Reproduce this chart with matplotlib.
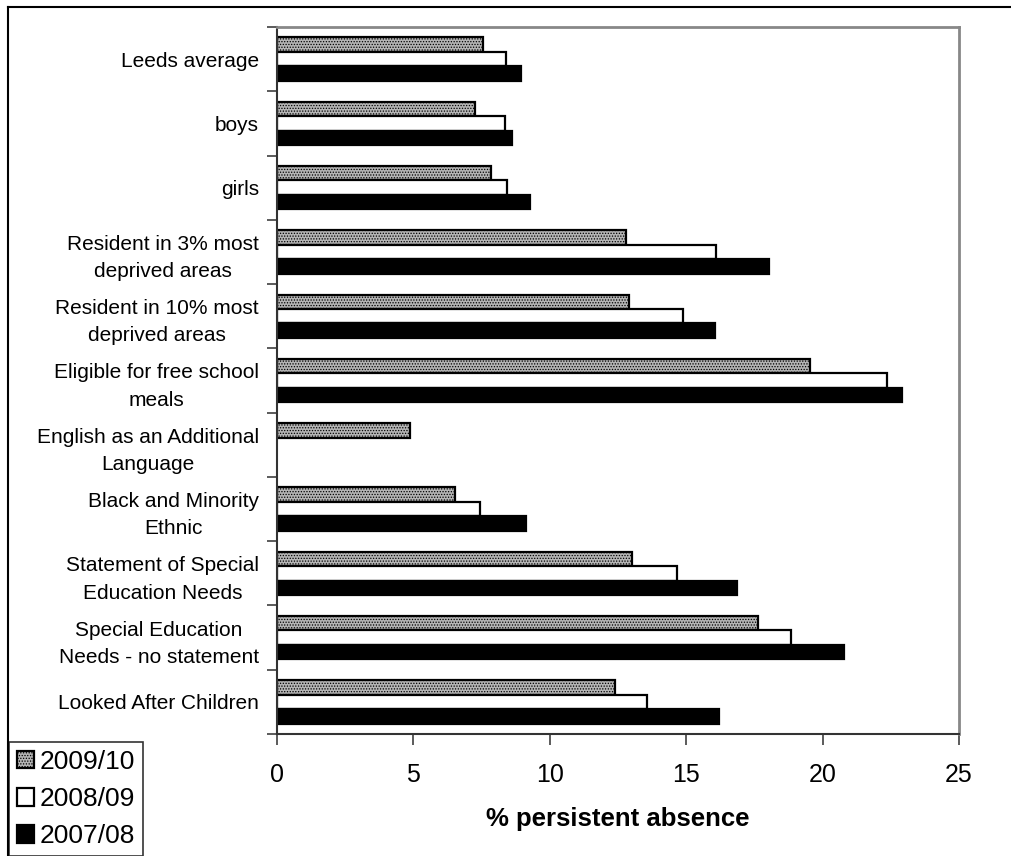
import matplotlib.pyplot as plt
from matplotlib.lines import Line2D
import numpy as np

plt.rcParams['font.family'] = ['Liberation Sans', 'DejaVu Sans']
plt.rcParams['hatch.color'] = '#4a4a4a'
plt.rcParams['hatch.linewidth'] = 0.6

categories = ['Leeds average', 'boys', 'girls',
              'Resident in 3% most\ndeprived areas',
              'Resident in 10% most\ndeprived areas',
              'Eligible for free school\nmeals',
              'English as an Additional\nLanguage',
              'Black and Minority\nEthnic',
              'Statement of Special\nEducation Needs',
              'Special Education\nNeeds - no statement',
              'Looked After Children']
v_0910 = [7.54, 7.26, 7.83, 12.80, 12.92, 19.52, 4.88, 6.53, 13.00, 17.65, 12.39]
v_0809 = [8.39, 8.35, 8.43, 16.09, 14.88, 22.35, np.nan, 7.45, 14.65, 18.83, 13.56]
v_0708 = [8.95, 8.63, 9.28, 18.04, 16.04, 22.92, np.nan, 9.14, 16.88, 20.78, 16.22]
series = ['2009/10', '2008/09', '2007/08']
x_ticks = [0, 5, 10, 15, 20, 25]

BAR_H = 0.225
fig = plt.figure(figsize=(10.12, 8.56), dpi=100)
ax = fig.add_axes([277 / 1012, 1 - 734 / 856, (959 - 277) / 1012, (734 - 27) / 856])

y = np.arange(len(categories))
b1 = ax.barh(y - BAR_H, v_0910, height=BAR_H, color='#b4b4b4', hatch='......',
             edgecolor='black', linewidth=1.6, label=series[0])
b2 = ax.barh(y, v_0809, height=BAR_H, color='white',
             edgecolor='black', linewidth=1.6, label=series[1])
b3 = ax.barh(y + BAR_H, v_0708, height=BAR_H, color='black',
             edgecolor='black', linewidth=1.6, label=series[2])

ax.set_xlim(0, 25)
ax.set_ylim(len(categories) - 0.5, -0.5)
ax.set_xticks(x_ticks)
ax.set_xticklabels([str(t) for t in x_ticks], fontsize=18)
ax.tick_params(axis='x', length=8, width=1.2, pad=13, color='#404040')
ax.set_yticks(y)
ax.set_yticklabels(categories, fontsize=15, multialignment='center', linespacing=1.55)
ax.tick_params(axis='y', which='major', length=0, pad=13)
ax.set_yticks(np.arange(len(categories) + 1) - 0.5, minor=True)
ax.tick_params(axis='y', which='minor', length=7, width=1.2, color='#404040')

ax.set_xlabel('% persistent absence', fontsize=18.5, fontweight='bold', labelpad=14)

for side in ['top', 'right']:
    ax.spines[side].set_color('#888888')
    ax.spines[side].set_linewidth(2)
for side in ['left', 'bottom']:
    ax.spines[side].set_color('#333333')
    ax.spines[side].set_linewidth(1.5)

# outer chart frame (only left and top edges visible in the crop)
fig.add_artist(Line2D([8 / 1012, 8 / 1012], [0, 1 - 7 / 856], color='black', lw=1.5,
                      transform=fig.transFigure))
fig.add_artist(Line2D([8 / 1012, 1], [1 - 7 / 856, 1 - 7 / 856], color='black', lw=1.5,
                      transform=fig.transFigure))

leg = ax.legend(handles=[b1, b2, b3], loc='upper left',
                bbox_to_anchor=(9 / 1012, 1 - 742 / 856), bbox_transform=fig.transFigure,
                fontsize=19, frameon=True, fancybox=False, edgecolor='black',
                handlelength=0.65, handleheight=0.65, handletextpad=0.2,
                labelspacing=0.5, borderpad=0.3, borderaxespad=0)
leg.get_frame().set_linewidth(1.2)

fig.savefig('out.png', dpi=100)
